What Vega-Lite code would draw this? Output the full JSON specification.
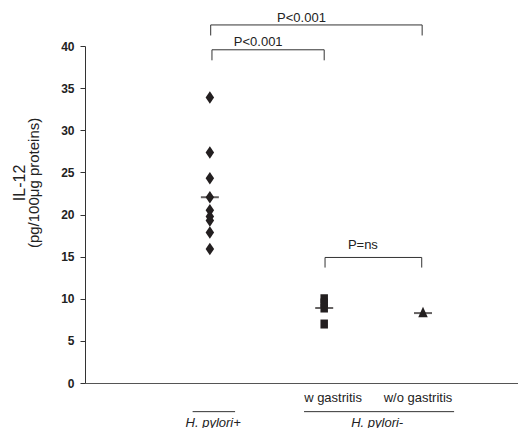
{
  "$schema": "https://vega.github.io/schema/vega-lite/v6.json",
  "autosize": {"type": "none"},
  "width": 433,
  "height": 337,
  "padding": {"left": 85, "top": 46, "right": 0, "bottom": 45},
  "background": "white",
  "config": {
    "view": {"stroke": null},
    "font": "Liberation Sans",
    "axis": {"grid": false, "domainColor": "#333", "tickColor": "#333", "labelColor": "#222", "titleColor": "#222"}
  },
  "datasets": {
    "points": [
      {"group": 2.97, "value": 33.9, "shape": "diamond"},
      {"group": 2.97, "value": 27.35, "shape": "diamond"},
      {"group": 2.97, "value": 24.3, "shape": "diamond"},
      {"group": 2.97, "value": 22.05, "shape": "diamond"},
      {"group": 2.97, "value": 20.5, "shape": "diamond"},
      {"group": 2.97, "value": 19.75, "shape": "diamond"},
      {"group": 2.97, "value": 19.3, "shape": "diamond"},
      {"group": 2.97, "value": 17.85, "shape": "diamond"},
      {"group": 2.97, "value": 15.9, "shape": "diamond"},
      {"group": 5.69, "value": 10.0, "shape": "square"},
      {"group": 5.69, "value": 9.5, "shape": "square"},
      {"group": 5.69, "value": 8.9, "shape": "square"},
      {"group": 5.69, "value": 7.0, "shape": "square"},
      {"group": 8.04, "value": 8.4, "shape": "triangle"}
    ],
    "medians": [
      {"group": 2.97, "value": 22.05},
      {"group": 5.69, "value": 8.9},
      {"group": 8.04, "value": 8.3}
    ],
    "segments": [
      {"x": 2.99, "x2": 8.02, "y": 42.5, "y2": 42.5},
      {"x": 2.99, "x2": 2.99, "y": 42.5, "y2": 41.25},
      {"x": 8.02, "x2": 8.02, "y": 42.5, "y2": 41.25},
      {"x": 3.02, "x2": 5.69, "y": 39.55, "y2": 39.55},
      {"x": 3.02, "x2": 3.02, "y": 39.55, "y2": 38.3},
      {"x": 5.69, "x2": 5.69, "y": 39.55, "y2": 38.3},
      {"x": 5.71, "x2": 8.01, "y": 14.9, "y2": 14.9},
      {"x": 5.71, "x2": 5.71, "y": 14.9, "y2": 13.7},
      {"x": 8.01, "x2": 8.01, "y": 14.9, "y2": 13.7},
      {"x": 2.56, "x2": 3.57, "y": -3.4, "y2": -3.4},
      {"x": 5.21, "x2": 8.78, "y": -3.4, "y2": -3.4}
    ],
    "pvalues": [
      {"x": 5.15, "y": 43.35, "label": "P<0.001"},
      {"x": 4.12, "y": 40.5, "label": "P<0.001"},
      {"x": 6.61, "y": 16.4, "label": "P=ns"},
      {"x": 5.9, "y": -1.78, "label": "w gastritis"},
      {"x": 7.92, "y": -1.78, "label": "w/o gastritis"}
    ],
    "groups": [
      {"x": 3.05, "y": -3.98, "label": "H. pylori+"},
      {"x": 6.95, "y": -3.98, "label": "H. pylori-"}
    ],
    "titles": [
      {"x": -1.55, "y": 23.75, "label": "IL-12", "size": 16},
      {"x": -1.21, "y": 23.75, "label": "(pg/100μg proteins)", "size": 15}
    ]
  },
  "encoding": {},
  "layer": [
    {
      "data": {"name": "points"},
      "mark": {"type": "point", "filled": true, "opacity": 1, "color": "#231f20", "size": 100},
      "encoding": {
        "x": {"field": "group", "type": "quantitative", "scale": {"domain": [0, 10.3], "nice": false, "zero": false},
              "axis": {"title": null, "labels": false, "ticks": false, "domainWidth": 1, "domainColor": "#555"}},
        "y": {"field": "value", "type": "quantitative", "scale": {"domain": [0, 40], "nice": false},
              "axis": {"title": null, "values": [0, 5, 10, 15, 20, 25, 30, 35, 40], "labelFontWeight": "bold", "labelFontSize": 12, "tickSize": 5, "labelPadding": 6, "domainColor": "#333"}},
        "shape": {"field": "shape", "type": "nominal", "scale": {"domain": ["diamond", "square", "triangle"], "range": ["M0,-1.25L0.85,0L0,1.25L-0.85,0Z", "M-0.75,-0.9L0.75,-0.9L0.75,0.9L-0.75,0.9Z", "M0,-1.1L0.95,1L-0.95,1Z"]}, "legend": null}
      }
    },
    {
      "data": {"name": "medians"},
      "mark": {"type": "tick", "orient": "horizontal", "size": 18, "thickness": 2, "color": "#231f20"},
      "encoding": {
        "x": {"field": "group", "type": "quantitative"},
        "y": {"field": "value", "type": "quantitative"}
      }
    },
    {
      "data": {"name": "segments"},
      "mark": {"type": "rule", "color": "#333", "strokeWidth": 1},
      "encoding": {
        "x": {"field": "x", "type": "quantitative"},
        "x2": {"field": "x2"},
        "y": {"field": "y", "type": "quantitative"},
        "y2": {"field": "y2"}
      }
    },
    {
      "data": {"name": "pvalues"},
      "mark": {"type": "text", "fontSize": 13, "color": "#222", "baseline": "middle", "align": "center"},
      "encoding": {
        "x": {"field": "x", "type": "quantitative"},
        "y": {"field": "y", "type": "quantitative"},
        "text": {"field": "label"}
      }
    },
    {
      "data": {"name": "groups"},
      "mark": {"type": "text", "fontSize": 13, "fontStyle": "italic", "color": "#222", "baseline": "top", "align": "center"},
      "encoding": {
        "x": {"field": "x", "type": "quantitative"},
        "y": {"field": "y", "type": "quantitative"},
        "text": {"field": "label"}
      }
    },
    {
      "data": {"name": "titles"},
      "mark": {"type": "text", "angle": 270, "color": "#222", "baseline": "middle", "align": "center"},
      "encoding": {
        "x": {"field": "x", "type": "quantitative"},
        "y": {"field": "y", "type": "quantitative"},
        "text": {"field": "label"},
        "size": {"field": "size", "type": "quantitative", "scale": null}
      }
    }
  ]
}
